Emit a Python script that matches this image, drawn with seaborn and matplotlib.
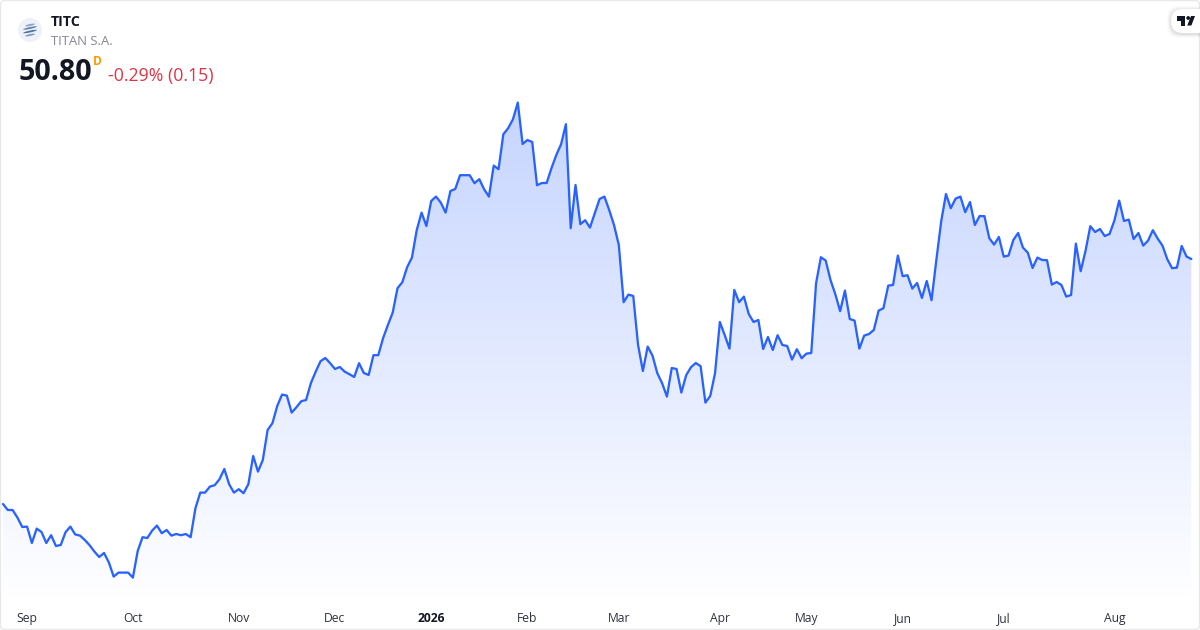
import numpy as np
import pandas as pd
import matplotlib
matplotlib.use("Agg")
import matplotlib.pyplot as plt
import seaborn as sns
from matplotlib.colors import LinearSegmentedColormap
from matplotlib.patches import Circle, Ellipse, FancyBboxPatch, Polygon

# daily closes
close = [
    38.55, 38.25, 38.25, 37.87, 37.40, 37.42, 36.60, 37.32, 37.15, 36.60, 36.99, 36.45, 36.50, 37.14, 37.42, 37.03,
    36.97, 36.75, 36.49, 36.17, 35.90, 36.10, 35.63, 34.92, 35.12, 35.12, 35.12, 34.87, 36.20, 36.89, 36.85, 37.22,
    37.47, 37.09, 37.25, 36.97, 37.05, 36.99, 37.05, 36.89, 38.34, 39.12, 39.12, 39.42, 39.49, 39.79, 40.30, 39.54,
    39.12, 39.29, 39.09, 39.54, 40.95, 40.17, 40.75, 42.25, 42.59, 43.45, 44.02, 43.97, 43.12, 43.39, 43.69, 43.75,
    44.60, 45.17, 45.69, 45.85, 45.59, 45.30, 45.40, 45.17, 45.04, 44.90, 45.59, 45.10, 45.00, 45.99, 45.99, 46.84,
    47.50, 48.12, 49.34, 49.64, 50.39, 50.87, 52.25, 53.12, 52.45, 53.70, 53.92, 53.62, 53.12, 54.20, 54.30, 54.99,
    54.99, 54.99, 54.59, 54.79, 54.29, 53.92, 55.47, 55.29, 57.04, 57.34, 57.79, 58.62, 56.55, 56.75, 56.65, 54.49,
    54.60, 54.60, 55.34, 56.00, 56.54, 57.54, 52.34, 54.50, 52.54, 52.74, 52.37, 53.09, 53.80, 53.92, 53.25, 52.50,
    51.50, 48.64, 49.02, 48.95, 46.50, 45.20, 46.42, 45.97, 45.09, 44.59, 43.92, 45.35, 45.30, 44.12, 44.99, 45.39,
    45.60, 45.44, 43.62, 43.95, 45.09, 47.65, 47.00, 46.32, 49.25, 48.64, 48.92, 48.05, 47.65, 47.75, 46.30, 46.90,
    46.25, 46.99, 46.50, 46.45, 45.77, 46.29, 45.84, 46.07, 46.10, 49.59, 50.89, 50.72, 49.75, 49.04, 48.19, 49.22,
    47.80, 47.72, 46.32, 46.97, 47.05, 47.25, 48.22, 48.34, 49.47, 49.50, 50.97, 49.94, 49.99, 49.32, 49.60, 48.85,
    49.70, 48.74, 50.75, 52.67, 54.05, 53.34, 53.82, 53.92, 53.14, 53.65, 52.50, 52.95, 52.94, 51.84, 51.52, 51.90,
    50.92, 50.97, 51.75, 52.10, 51.37, 51.12, 50.35, 50.87, 50.75, 50.74, 49.52, 49.65, 49.50, 48.92, 49.00, 51.57,
    50.19, 51.20, 52.44, 52.15, 52.30, 51.95, 52.05, 52.72, 53.72, 52.70, 52.77, 51.80, 52.10, 51.47, 51.72, 52.24,
    51.82, 51.47, 50.79, 50.34, 50.37, 51.45, 50.92, 50.80,
]
month_labels = ["Sep", "Oct", "Nov", "Dec", "2026", "Feb", "Mar", "Apr", "May", "Jun", "Jul", "Aug"]
month_sessions = [5, 27, 49, 69, 89, 109, 128, 149, 167, 187, 208, 231]

df = pd.DataFrame({"session": np.arange(len(close)), "close": close})

sns.set_theme(style="white")
plt.rcParams["font.family"] = ["Open Sans", "DejaVu Sans"]

LINE = "#2962ff"
W, H = 1200, 630

fig = plt.figure(figsize=(12, 6.3), dpi=100, facecolor="white")
ax = fig.add_axes([0, 25 / H, 1, 605 / H])
ax.set_facecolor("none")

y_low, y_high = 33.5, 63.75
x_low, x_high = -0.624, 248.8

# gradient area under the line
shade = ax.fill_between(df["session"], df["close"], y_low, color="none", lw=0)
cmap = LinearSegmentedColormap.from_list(
    "area", [(0.161, 0.384, 1.0, 0.27), (0.161, 0.384, 1.0, 0.0)]
)
grad = ax.imshow(
    np.linspace(0, 1, 256).reshape(-1, 1),
    cmap=cmap,
    aspect="auto",
    extent=[x_low, x_high, y_low, 58.7],
    zorder=1,
)
grad.set_clip_path(shade.get_paths()[0], transform=ax.transData)

sns.lineplot(data=df, x="session", y="close", color=LINE, linewidth=1.65, ax=ax, zorder=2, errorbar=None)

ax.set_xlim(x_low, x_high)
ax.set_ylim(y_low, y_high)
ax.set_xlabel("")
ax.set_ylabel("")
ax.set_yticks([])
ax.set_xticks(month_sessions, month_labels)
ax.tick_params(axis="x", length=0, pad=12.2, labelsize=8.7, labelcolor="#2f3240")
for lab in ax.get_xticklabels():
    lab.set_verticalalignment("baseline")
    if lab.get_text() == "2026":
        lab.set_fontweight("bold")
        lab.set_color("#131722")
sns.despine(ax=ax, left=True, bottom=True, top=True, right=True)

# header, logo and frame drawn on a pixel overlay
top = fig.add_axes([0, 0, 1, 1], zorder=5)
top.set_xlim(0, W)
top.set_ylim(H, 0)
top.axis("off")
top.patch.set_alpha(0)

top.add_patch(FancyBboxPatch((0.5, 0.5), W - 1, H - 1, boxstyle="round,pad=0,rounding_size=4",
                             fc="none", ec="#e9e9ea", lw=1))

top.add_patch(Circle((30, 30), 12, fc="#edf1f9", ec="none"))
for cy, wd, col in [(25, 10, "#8aa5c2"), (28, 14, "#5f84aa"), (31.5, 14, "#4d769f"), (35, 10, "#7f9dbb")]:
    top.add_patch(Ellipse((30, cy), wd, 1.9, angle=-12, fc=col, ec="none"))

top.text(51, 21.5, "TITC", fontsize=10.3, fontweight="bold", color="#131722", va="center", ha="left")
top.text(51, 41.5, "TITAN S.A.", fontsize=9.45, color="#868993", va="center", ha="left")
top.text(19, 73, "50.80", fontsize=20.6, fontweight="bold", color="#131722", va="center", ha="left")
top.text(93, 61.5, "D", fontsize=8.6, fontweight="bold", color="#ff9800", va="center", ha="left")
top.text(108, 76, "-0.29% (0.15)", fontsize=12.75, color="#dc3545", va="center", ha="left")

# TradingView badge in the top right corner
for off, alpha in [(4, 0.015), (3, 0.025), (2, 0.035), (1, 0.045)]:
    top.add_patch(FancyBboxPatch((1171 - off, 9 - off + 1), 60 + off * 2, 24 + off * 2,
                                 boxstyle="round,pad=0,rounding_size=12", fc="black", ec="none", alpha=alpha))
top.add_patch(FancyBboxPatch((1171, 9), 60, 24, boxstyle="round,pad=0,rounding_size=12", fc="white", ec="none"))
top.add_patch(Polygon([(1177, 16), (1185.2, 16), (1185.2, 25.5), (1181, 25.5), (1181, 20.5), (1177, 20.5)], fc="#131722", ec="none"))
top.add_patch(Polygon([(1195, 16), (1191, 16), (1187.2, 25.5), (1191.4, 25.5)], fc="#131722", ec="none"))
top.add_patch(Circle((1188.2, 18), 1.9, fc="#131722", ec="none"))

fig.savefig("out.png", dpi=100)
